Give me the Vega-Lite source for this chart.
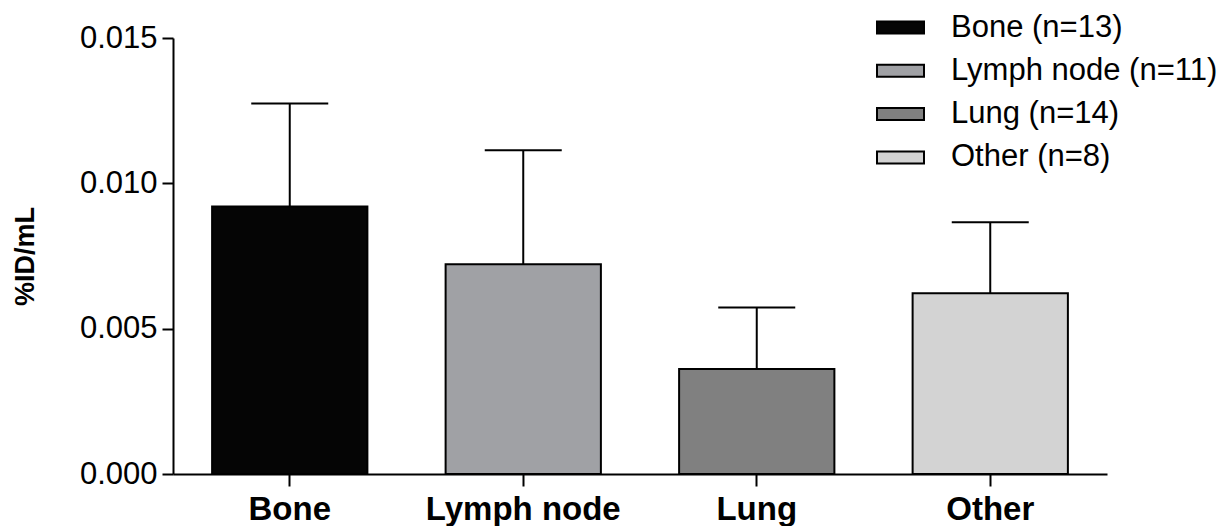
{
  "$schema": "https://vega.github.io/schema/vega-lite/v6.json",
  "width": 934,
  "height": 436,
  "autosize": {"type": "none"},
  "padding": {"left": 173, "top": 38, "right": 118, "bottom": 52},
  "background": "white",
  "config": {
    "view": {"stroke": null},
    "font": "Liberation Sans",
    "axis": {"domainColor": "black", "tickColor": "black", "domainWidth": 2, "tickWidth": 2, "labelColor": "black", "titleColor": "black", "grid": false, "labelFont": "Liberation Sans", "titleFont": "Liberation Sans"}
  },
  "data": {
    "values": [
      {"group": "Bone", "legend": "Bone (n=13)", "mean": 0.0092, "upper": 0.01275},
      {"group": "Lymph node", "legend": "Lymph node (n=11)", "mean": 0.00722, "upper": 0.01114},
      {"group": "Lung", "legend": "Lung (n=14)", "mean": 0.00361, "upper": 0.00573},
      {"group": "Other", "legend": "Other (n=8)", "mean": 0.00622, "upper": 0.00866}
    ]
  },
  "encoding": {
    "x": {
      "field": "group", "type": "nominal", "sort": null,
      "scale": {"paddingInner": 0.335, "paddingOuter": 0.1675},
      "axis": {"title": null, "labelAngle": 0, "labelFontSize": 33, "labelFontWeight": "bold", "tickSize": 12, "labelPadding": 7, "labelLimit": 500}
    }
  },
  "layer": [
    {
      "mark": {"type": "rule", "strokeWidth": 2, "color": "black"},
      "encoding": {
        "y": {"field": "mean", "type": "quantitative"},
        "y2": {"field": "upper"}
      }
    },
    {
      "mark": {"type": "tick", "size": 77, "thickness": 2, "color": "black", "opacity": 1},
      "encoding": {
        "y": {"field": "upper", "type": "quantitative"}
      }
    },
    {
      "mark": {"type": "bar", "stroke": "black", "strokeWidth": 2, "opacity": 1},
      "encoding": {
        "y": {
          "field": "mean", "type": "quantitative",
          "scale": {"domain": [0, 0.015], "nice": false, "zero": true},
          "axis": {"title": "%ID/mL", "values": [0, 0.005, 0.01, 0.015], "format": ".3f", "labelFontSize": 31, "tickSize": 11, "labelPadding": 5, "titleFontSize": 27, "titleFontWeight": "bold", "titleAngle": -90, "titleX": -148, "titleY": 218, "titleAlign": "center", "titleBaseline": "middle"}
        },
        "color": {
          "field": "legend", "type": "nominal", "sort": null,
          "scale": {"domain": ["Bone (n=13)", "Lymph node (n=11)", "Lung (n=14)", "Other (n=8)"], "range": ["#050505", "#a0a1a5", "#808080", "#d3d3d3"]},
          "legend": {
            "title": null, "orient": "none", "legendX": 703, "legendY": -35,
            "symbolType": "M-1,-0.255H1V0.255H-1Z", "symbolSize": 2209,
            "symbolStrokeColor": "black", "symbolStrokeWidth": 2, "symbolOpacity": 1,
            "labelFontSize": 31, "labelFont": "Liberation Sans", "labelColor": "black", "labelOffset": 26, "rowPadding": 3.3, "labelLimit": 400
          }
        }
      }
    }
  ]
}
